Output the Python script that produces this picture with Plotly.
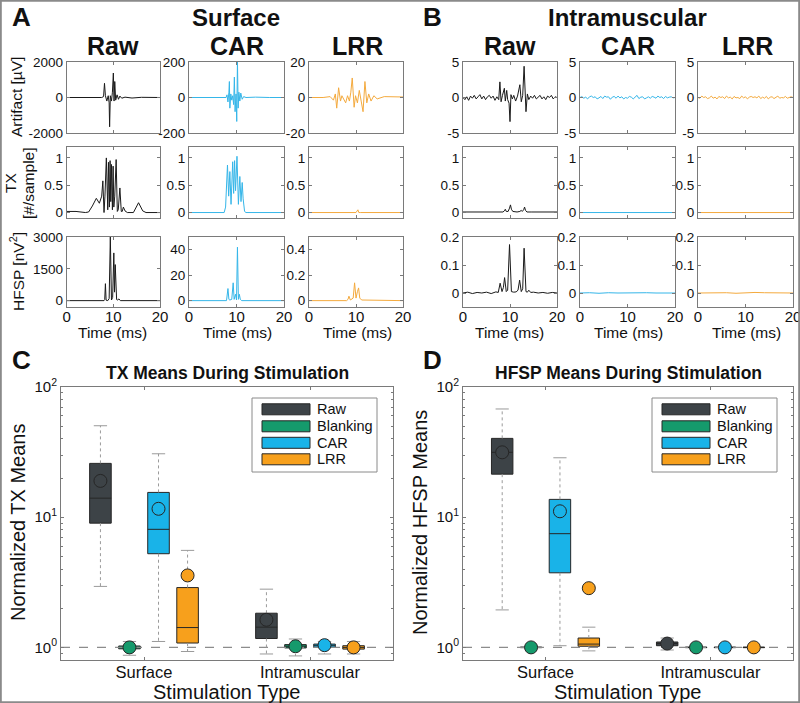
import math
import plotly.graph_objects as go

W, H = 800, 703
FONT = "Liberation Sans, Arial, Helvetica, sans-serif"
AXC = "#7a7a7a"
TXTC = "#111111"

# ---------------- top waveform data ----------------
# Surface, Artifact [uV]
surf_art_raw_t = [0, 2, 4, 6, 7.5, 7.9, 8.1, 8.3, 8.6, 8.9, 9.1, 9.2, 9.35, 9.6, 9.8, 10.0, 10.15, 10.3, 10.5, 10.8, 11.1, 11.4, 11.8, 12.5, 14, 16, 18, 20]
surf_art_raw_v = [0, 10, -10, 20, 0, 50, 800, 100, -200, 100, -300, -1650, 100, -200, 300, 1380, -200, 900, -150, 150, -100, 80, -40, 20, -30, 10, 0, 0]
surf_art_car_t = [0, 5, 7.8, 8.0, 8.2, 8.4, 8.5, 8.6, 8.8, 9.0, 9.2, 9.4, 9.55, 9.7, 9.9, 10.05, 10.2, 10.35, 10.5, 10.7, 10.9, 11.2, 11.5, 12, 14, 17, 20]
surf_art_car_v = [0, 0, 0, 15, -25, 30, 90, -60, 20, -15, 10, -40, 115, -80, 20, -135, 210, -60, 30, -20, 25, -10, 5, 0, 2, 0, 0]
surf_art_lrr_t = [0, 3, 4.5, 5.2, 5.6, 5.9, 6.3, 6.7, 7.0, 7.4, 7.8, 8.2, 8.6, 8.9, 9.2, 9.6, 9.9, 10.3, 10.7, 11.1, 11.5, 11.9, 12.3, 12.7, 13.2, 13.8, 14.5, 16, 18, 20]
surf_art_lrr_v = [0, 0, 0.5, -1.5, 2, -6, 5.5, -2, 1, -1, -3, 1, -2, 3, 11, -5.5, 1, -3, 4, -2, -8, 9, -3, 2, -2, 1, -0.8, 0.5, 0.2, 0.3]

# Surface, TX [#/sample]
surf_tx_raw_t = [0, 2, 4, 4.7, 5.5, 6.35, 7.0, 7.5, 7.75, 8.0, 8.2, 8.5, 8.8, 8.95, 9.15, 9.3, 9.45, 9.6, 9.8, 9.95, 10.1, 10.3, 10.6, 10.85, 11.05, 11.4, 11.7, 11.9, 12.15, 12.5, 13, 14.3, 15.4, 16.3, 17, 18, 20]
surf_tx_raw_v = [0.02, 0.02, 0.0, 0.01, 0.12, 0.26, 0.17, 0.3, 0.58, 0.0, 0.3, 1.0, 0.05, 0.92, 0.1, 0.95, 0.2, 0.88, 0.05, 0.85, 0.1, 0.3, 0.97, 0.02, 0.05, 0.45, 0.02, 0.02, 0.1, 0.03, 0.0, 0.0, 0.18, 0.03, 0.0, 0.0, 0.0]
surf_tx_car_t = [0, 5, 7.4, 7.7, 8.1, 8.35, 8.6, 8.85, 9.2, 9.4, 9.6, 9.8, 10.1, 10.4, 10.7, 10.95, 11.2, 11.4, 11.7, 12, 15, 20]
surf_tx_car_v = [0, 0, 0, 0.1, 0.87, 0.3, 0.75, 0.15, 0.93, 0.35, 0.95, 0.4, 1.03, 0.15, 0.66, 0.2, 0.55, 0.25, 0.02, 0, 0, 0]
surf_tx_lrr_t = [0, 10, 10.4, 10.6, 11, 20]
surf_tx_lrr_v = [0, 0, 0.05, 0, 0, 0]

# Surface, HFSP [nV^2]
surf_hf_raw_t = [0, 8, 8.15, 8.3, 8.45, 8.8, 9.1, 9.35, 9.6, 9.85, 10.1, 10.25, 10.4, 10.55, 10.7, 10.9, 11.2, 11.5, 12, 20]
surf_hf_raw_v = [0, 0, 50, 800, 20, 0, 100, 3000, 30, 150, 2250, 400, 1700, 900, 50, 30, 80, 0, 0, 0]
surf_hf_car_t = [0, 7.9, 8.2, 8.4, 8.6, 9.0, 9.3, 9.5, 9.8, 10.0, 10.2, 10.4, 10.6, 10.8, 11.1, 20]
surf_hf_car_v = [0, 0, 9.5, 1, 0.5, 1, 14, 1, 5, 0.5, 42, 1, 5, 1, 0, 0]
surf_hf_lrr_t = [0, 8, 8.3, 8.5, 8.8, 9.4, 9.7, 10.0, 10.3, 10.55, 10.8, 11.2, 20]
surf_hf_lrr_v = [0, 0, 0.01, 0.035, 0.005, 0.02, 0.14, 0.02, 0.07, 0.1, 0.02, 0.005, 0.0]

# Intramuscular, Artifact
noise_t = [0, 0.4, 0.8, 1.2, 1.6, 2.0, 2.4, 2.8, 3.2, 3.6, 4.0, 4.4, 4.8, 5.2, 5.6, 6.0, 6.4, 6.8, 7.2, 7.6, 8.0,
           8.4, 8.8, 9.2, 9.6, 10.0, 10.4, 10.8, 11.2, 11.6, 12.0, 12.4, 12.8, 13.2, 13.6, 14.0, 14.4, 14.8, 15.2,
           15.6, 16.0, 16.4, 16.8, 17.2, 17.6, 18.0, 18.4, 18.8, 19.2, 19.6, 20.0]
intra_art_raw_t = [0, 0.4, 0.8, 1.2, 1.6, 2.0, 2.4, 2.8, 3.2, 3.6, 4.0, 4.4, 4.8, 5.2, 5.6, 6.0, 6.4, 6.8, 7.2, 7.6, 7.85, 8.1, 8.4, 8.8, 9.0, 9.3, 9.5, 9.8, 10.0, 10.2, 10.5, 10.8, 11.2, 11.6, 12.1, 12.4, 12.7, 13.0, 13.4, 13.7, 14.0, 14.4, 14.8, 15.2, 15.6, 16.0, 16.4, 16.8, 17.2, 17.6, 18.0, 18.4, 18.8, 19.2, 19.6, 20]
intra_art_raw_v = [0, -0.3, 0.1, -0.4, 0.2, -0.1, 0.3, -0.2, 0.1, 0.4, -0.2, 0.2, -0.3, 0.1, 0.3, -0.1, 0.2, -0.4, 0.1, -0.3, 2.2, -0.6, 0.3, 1.3, -0.5, 1.0, -0.3, -0.8, -3.4, 0.4, -0.2, 0.3, -0.5, 0.2, 1.8, -0.6, 0.3, 4.4, -2.0, 0.5, -0.3, 0.2, -0.1, 0.3, -0.2, 0.1, 0.3, -0.2, 0.1, -0.3, 0.2, 0.0, 0.3, -0.2, 0.1, 0.0]
intra_art_car_v = [0, 0.12, -0.1, 0.05, -0.2, 0.1, 0.2, 0.0, 0.1, -0.2, -0.05, 0.15, -0.15, 0.2, 0.05, 0.1, -0.25, 0.05, 0.15, -0.1, 0.2,
                   -0.05, 0.1, -0.2, 0.0, -0.1, 0.15, 0.05, -0.2, 0.1, 0.3, -0.15, 0.05, 0.1, -0.2, -0.05, 0.1, -0.1, 0.15,
                   0.05, -0.1, 0.2, 0.0, 0.1, -0.15, 0.15, -0.05, 0.05, 0.1, -0.05, 0]
intra_art_lrr_v = [0, -0.1, 0.2, 0.0, 0.1, -0.15, -0.05, 0.2, -0.1, 0.05, -0.2, 0.15, 0.0, 0.1, -0.15, 0.2, -0.05, 0.05, -0.2, 0.15, -0.05,
                   0.0, -0.15, 0.2, -0.05, 0.1, -0.2, 0.05, 0.15, 0.0, 0.1, -0.05, 0.2, -0.15, 0.05, -0.1, 0.15, -0.2, 0.05,
                   0.1, -0.15, 0.05, 0.2, -0.1, 0.0, -0.05, 0.15, -0.1, 0.05, 0.1, 0]

# Intramuscular, TX
intra_tx_raw_t = [0, 5, 8.5, 8.8, 9.0, 9.2, 9.6, 9.9, 10.1, 10.3, 10.6, 11.5, 12.1, 12.4, 12.6, 12.9, 13.1, 13.3, 13.6, 14.5, 20]
intra_tx_raw_v = [0.01, 0.01, 0.01, 0.03, 0.06, 0.02, 0.02, 0.08, 0.14, 0.06, 0.02, 0.01, 0.02, 0.04, 0.02, 0.05, 0.1, 0.04, 0.01, 0.01, 0.01]
intra_tx_car_t = [0, 20]
intra_tx_car_v = [0, 0]
intra_tx_lrr_t = [0, 20]
intra_tx_lrr_v = [0, 0]

# Intramuscular, HFSP
intra_hf_raw_t = [0, 1, 2, 3, 4, 5, 6, 7, 7.5, 7.9, 8.3, 8.6, 8.85, 9.2, 9.5, 9.9, 10.3, 10.8, 11.3, 11.7, 12.05, 12.4, 12.7, 13.0, 13.4, 13.7, 14.0, 14.4, 15, 16, 17, 18, 19, 20]
intra_hf_raw_v = [0, 0.003, -0.002, 0.002, 0, 0.003, -0.002, 0.004, 0.002, 0.035, 0.005, 0.02, 0.055, 0.005, 0.01, 0.173, 0.005, 0.003, 0.004, 0.01, 0.046, 0.005, 0.015, 0.16, 0.005, 0.003, 0.01, 0.002, 0.003, 0, 0.002, -0.001, 0.002, 0]
intra_hf_car_t = [0, 2, 4, 6, 8, 10, 12, 13, 14, 16, 18, 20]
intra_hf_car_v = [0, 0.001, -0.001, 0.001, 0, 0.001, 0.002, 0.003, 0.001, 0, 0.001, 0]
intra_hf_lrr_t = [0, 2, 4, 6, 8, 10, 12, 14, 16, 18, 20]
intra_hf_lrr_v = [0, 0.001, 0, 0.001, -0.001, 0.001, 0.002, 0.001, 0, 0.001, 0]

LINE_RAW = "#1a1a1a"
LINE_CAR = "#35b6e9"
LINE_LRR = "#f4aa3e"

panels = [
    [(surf_art_raw_t, surf_art_raw_v, LINE_RAW), (surf_art_car_t, surf_art_car_v, LINE_CAR), (surf_art_lrr_t, surf_art_lrr_v, LINE_LRR),
     (intra_art_raw_t, intra_art_raw_v, LINE_RAW), (noise_t, intra_art_car_v, LINE_CAR), (noise_t, intra_art_lrr_v, LINE_LRR)],
    [(surf_tx_raw_t, surf_tx_raw_v, LINE_RAW), (surf_tx_car_t, surf_tx_car_v, LINE_CAR), (surf_tx_lrr_t, surf_tx_lrr_v, LINE_LRR),
     (intra_tx_raw_t, intra_tx_raw_v, LINE_RAW), (intra_tx_car_t, intra_tx_car_v, LINE_CAR), (intra_tx_lrr_t, intra_tx_lrr_v, LINE_LRR)],
    [(surf_hf_raw_t, surf_hf_raw_v, LINE_RAW), (surf_hf_car_t, surf_hf_car_v, LINE_CAR), (surf_hf_lrr_t, surf_hf_lrr_v, LINE_LRR),
     (intra_hf_raw_t, intra_hf_raw_v, LINE_RAW), (intra_hf_car_t, intra_hf_car_v, LINE_CAR), (intra_hf_lrr_t, intra_hf_lrr_v, LINE_LRR)],
]

y_ranges = [
    [[-2000, 2000], [-200, 200], [-20, 20], [-5, 5], [-5, 5], [-5, 5]],
    [[-0.1, 1.2]] * 6,
    [[-300, 3000], [-5, 50], [-0.05, 0.5], [-0.05, 0.2], [-0.05, 0.2], [-0.05, 0.2]],
]
y_ticks = [
    [[-2000, 0, 2000], [-200, 0, 200], [-20, 0, 20], [-5, 0, 5], [-5, 0, 5], [-5, 0, 5]],
    [[0, 0.5, 1]] * 6,
    [[0, 1500, 3000], [0, 20, 40], [0, 0.2, 0.4], [0, 0.1, 0.2], [0, 0.1, 0.2], [0, 0.1, 0.2]],
]
x_ticks = [0, 10, 20]

# ---------------- box-plot data ----------------
methods = ["Raw", "Blanking", "CAR", "LRR"]
groups = ["Surface", "Intramuscular"]
box_fill = ["#3d4347", "#159a6c", "#19b3e8", "#f7a01c"]
offsets = [-0.2625, -0.0875, 0.0875, 0.2625]

# [group][method]
tx_low = [[2.94, 0.87, 1.11, 0.93], [0.89, 0.86, 0.89, 0.89]]
tx_q1 = [[9.0, 0.975, 5.24, 1.08], [1.17, 0.99, 1.0, 0.97]]
tx_med = [[14.0, 1.0, 8.07, 1.42], [1.43, 1.02, 1.03, 1.0]]
tx_q3 = [[25.9, 1.025, 15.5, 2.88], [1.83, 1.05, 1.06, 1.03]]
tx_high = [[50.4, 1.11, 30.7, 5.56], [2.80, 1.16, 1.11, 1.11]]
tx_mean = [[19.0, 1.0, 11.6, 3.57], [1.63, 1.02, 1.04, 1.0]]

hf_low = [[1.94, 0.99, 1.03, 0.94], [0.955, 0.99, 0.99, 0.99]]
hf_q1 = [[21.4, 0.995, 3.74, 1.02], [1.03, 0.995, 0.995, 0.995]]
hf_med = [[31.5, 1.0, 7.47, 1.06], [1.07, 1.0, 1.0, 1.0]]
hf_q3 = [[40.3, 1.005, 13.7, 1.18], [1.10, 1.005, 1.005, 1.005]]
hf_high = [[67.8, 1.01, 28.6, 1.43], [1.18, 1.01, 1.01, 1.01]]
hf_mean = [[31.5, 1.0, 11.1, 2.85], [1.07, 1.0, 1.0, 1.0]]

log_ticks = [1, 10, 100]
log_ticktext = ["10<sup>0</sup>", "10<sup>1</sup>", "10<sup>2</sup>"]
minor_vals = [0.8, 0.9, 2, 3, 4, 5, 6, 7, 8, 9, 20, 30, 40, 50, 60, 70, 80, 90]


def fx(p):
    return p / W


def fy(p):
    return 1 - p / H


def ax_name(kind, n):
    return f"{kind}axis" if n == 1 else f"{kind}axis{n}"


def ref(kind, n):
    return kind if n == 1 else f"{kind}{n}"


def fmt(v):
    return "%g" % v


fig = go.Figure()
layout = {}

top_cols = [(66.7, 160), (189, 284), (309, 403), (463, 557), (580, 675), (698, 793)]
top_rows = [(62, 133), (147, 218), (237, 307)]

common = dict(showline=True, linecolor=AXC, linewidth=1, mirror="ticks", ticks="inside",
              ticklen=3, tickcolor=AXC, showgrid=False, zeroline=False, automargin=False,
              ticklabeloverflow="allow")

for r in range(3):
    for c in range(6):
        n = r * 6 + c + 1
        t, v, col = panels[r][c]
        fig.add_trace(go.Scatter(x=t, y=v, mode="lines", line=dict(color=col, width=1),
                                 xaxis=ref("x", n), yaxis=ref("y", n), showlegend=False,
                                 hoverinfo="skip", cliponaxis=True))
        x0, x1 = top_cols[c]
        y0, y1 = top_rows[r]
        layout[ax_name("x", n)] = dict(common, domain=[fx(x0), fx(x1)], anchor=ref("y", n),
                                       range=[0, 20], tickvals=x_ticks,
                                       showticklabels=(r == 2),
                                       tickfont=dict(size=15, color=TXTC, family=FONT))
        yt = y_ticks[r][c]
        layout[ax_name("y", n)] = dict(common, domain=[fy(y1), fy(y0)], anchor=ref("x", n),
                                       range=y_ranges[r][c], tickvals=yt,
                                       ticktext=[fmt(a) for a in yt],
                                       tickfont=dict(size=13.5, color=TXTC, family=FONT))

# ---------------- box plots ----------------
panels_box = [
    (19, (61, 393), (tx_low, tx_q1, tx_med, tx_q3, tx_high, tx_mean)),
    (20, (463, 793), (hf_low, hf_q1, hf_med, hf_q3, hf_high, hf_mean)),
]
for n, (x0, x1), stats in panels_box:
    lo, q1, med, q3, hi, mean = stats
    xr, yr = ref("x", n), ref("y", n)
    fig.add_trace(go.Scatter(x=[0.5, 2.5], y=[1, 1], mode="lines",
                             line=dict(color="#8c8c8c", width=1.3, dash="dash"),
                             xaxis=xr, yaxis=yr, showlegend=False, hoverinfo="skip"))
    for g in range(2):
        for m in range(4):
            p = g + 1 + offsets[m]
            cap = 0.04
            fig.add_trace(go.Scatter(x=[p, p, None, p, p], y=[q3[g][m], hi[g][m], None, q1[g][m], lo[g][m]],
                                     mode="lines", line=dict(color="#9a9a9a", width=1, dash="dot"),
                                     xaxis=xr, yaxis=yr, showlegend=False, hoverinfo="skip"))
            fig.add_trace(go.Scatter(x=[p - cap, p + cap, None, p - cap, p + cap],
                                     y=[hi[g][m], hi[g][m], None, lo[g][m], lo[g][m]],
                                     mode="lines", line=dict(color="#9a9a9a", width=1),
                                     xaxis=xr, yaxis=yr, showlegend=False, hoverinfo="skip"))
            fig.add_trace(go.Box(x=[p], q1=[q1[g][m]], median=[med[g][m]], q3=[q3[g][m]],
                                 lowerfence=[q1[g][m]], upperfence=[q3[g][m]], width=0.13,
                                 fillcolor=box_fill[m], line=dict(color="#262626", width=1),
                                 whiskerwidth=0, boxpoints=False,
                                 xaxis=xr, yaxis=yr, showlegend=False, hoverinfo="skip"))
            fig.add_trace(go.Scatter(x=[p], y=[mean[g][m]], mode="markers",
                                     marker=dict(size=13, color=box_fill[m], line=dict(color="#262626", width=1)),
                                     xaxis=xr, yaxis=yr, showlegend=False, hoverinfo="skip"))
    layout[ax_name("x", n)] = dict(common, domain=[fx(x0), fx(x1)], anchor=yr, range=[0.5, 2.5],
                                   tickvals=[1, 2], ticktext=groups,
                                   tickfont=dict(size=16.5, color=TXTC, family=FONT))
    layout[ax_name("y", n)] = dict(common, domain=[fy(660), fy(387)], anchor=xr, type="log",
                                   range=[math.log10(0.8), 2], tickvals=log_ticks, ticktext=log_ticktext,
                                   tickfont=dict(size=15, color=TXTC, family=FONT),
                                   minor=dict(ticks="inside", ticklen=2, tickcolor=AXC, tickvals=minor_vals))

# ---------------- text ----------------
ann = []


def txt(x, y, s, size, bold=False, angle=0, xanchor="center"):
    ann.append(dict(x=fx(x), y=fy(y), xref="paper", yref="paper", text=(f"<b>{s}</b>" if bold else s),
                    showarrow=False, textangle=angle, xanchor=xanchor, yanchor="middle",
                    font=dict(size=size, color=TXTC, family=FONT)))


txt(21.5, 17, "A", 26, True)
txt(432, 17, "B", 26, True)
txt(236, 17, "Surface", 24, True)
txt(627, 17, "Intramuscular", 24, True)
for cx, s in [(113, "Raw"), (237, "CAR"), (357, "LRR"), (510, "Raw"), (628, "CAR"), (747, "LRR")]:
    txt(cx, 46, s, 25, True)
txt(17, 97, "Artifact [µV]", 15.5, angle=-90)
txt(10, 183, "TX", 15.5, angle=-90)
txt(28, 183, "[#/sample]", 15.5, angle=-90)
txt(17, 272, "HFSP [nV<sup>2</sup>]", 15.5, angle=-90)
for cx in [113, 237, 357, 510, 628, 746]:
    txt(cx, 333, "Time (ms)", 15.5)

txt(21, 360, "C", 26, True)
txt(432, 360, "D", 26, True)
txt(227, 373, "TX Means During Stimulation", 17.5, True)
txt(628, 373, "HFSP Means During Stimulation", 17.5, True)
txt(18, 523, "Normalized TX Means", 20, angle=-90)
txt(420, 523, "Normalized HFSP Means", 20, angle=-90)
txt(227, 692, "Stimulation Type", 20)
txt(628, 692, "Stimulation Type", 20)

# manual legends
shapes = [dict(type="rect", xref="paper", yref="paper", x0=0.001, y0=0.001, x1=0.999, y1=0.999,
               line=dict(color="#8a8a8a", width=2))]
rows_y = [409.3, 426.3, 442.8, 459.3]
for lx0 in [252, 652]:
    shapes.append(dict(type="rect", xref="paper", yref="paper", x0=fx(lx0), x1=fx(lx0 + 125),
                       y0=fy(472), y1=fy(398), line=dict(color="#8a8a8a", width=1), fillcolor="white"))
    for i, m in enumerate(methods):
        shapes.append(dict(type="rect", xref="paper", yref="paper", x0=fx(lx0 + 10), x1=fx(lx0 + 58),
                           y0=fy(rows_y[i] + 5.5), y1=fy(rows_y[i] - 5.5),
                           line=dict(color="#262626", width=1), fillcolor=box_fill[i]))
        txt(lx0 + 63, rows_y[i], m, 14.5, xanchor="left")

layout.update(dict(width=W, height=H, margin=dict(l=0, r=0, t=0, b=0, pad=0, autoexpand=False),
                   paper_bgcolor="white", plot_bgcolor="white", boxmode="overlay",
                   annotations=ann, shapes=shapes,
                   font=dict(family=FONT, color=TXTC)))
fig.update_layout(**layout)

# pull tick labels up closer to the axis line, as in the reference
for n, off in [(13, -4), (14, -4), (15, -4), (16, -4), (17, -4), (18, -4), (19, -3), (20, -3)]:
    try:
        fig.layout[ax_name("x", n)].ticklabelstandoff = off
    except Exception:
        pass

fig.write_html("out.html", config={"displayModeBar": False},
               post_script="document.body.style.margin='0';document.body.style.padding='0';"
                           "document.body.style.overflow='hidden';")
